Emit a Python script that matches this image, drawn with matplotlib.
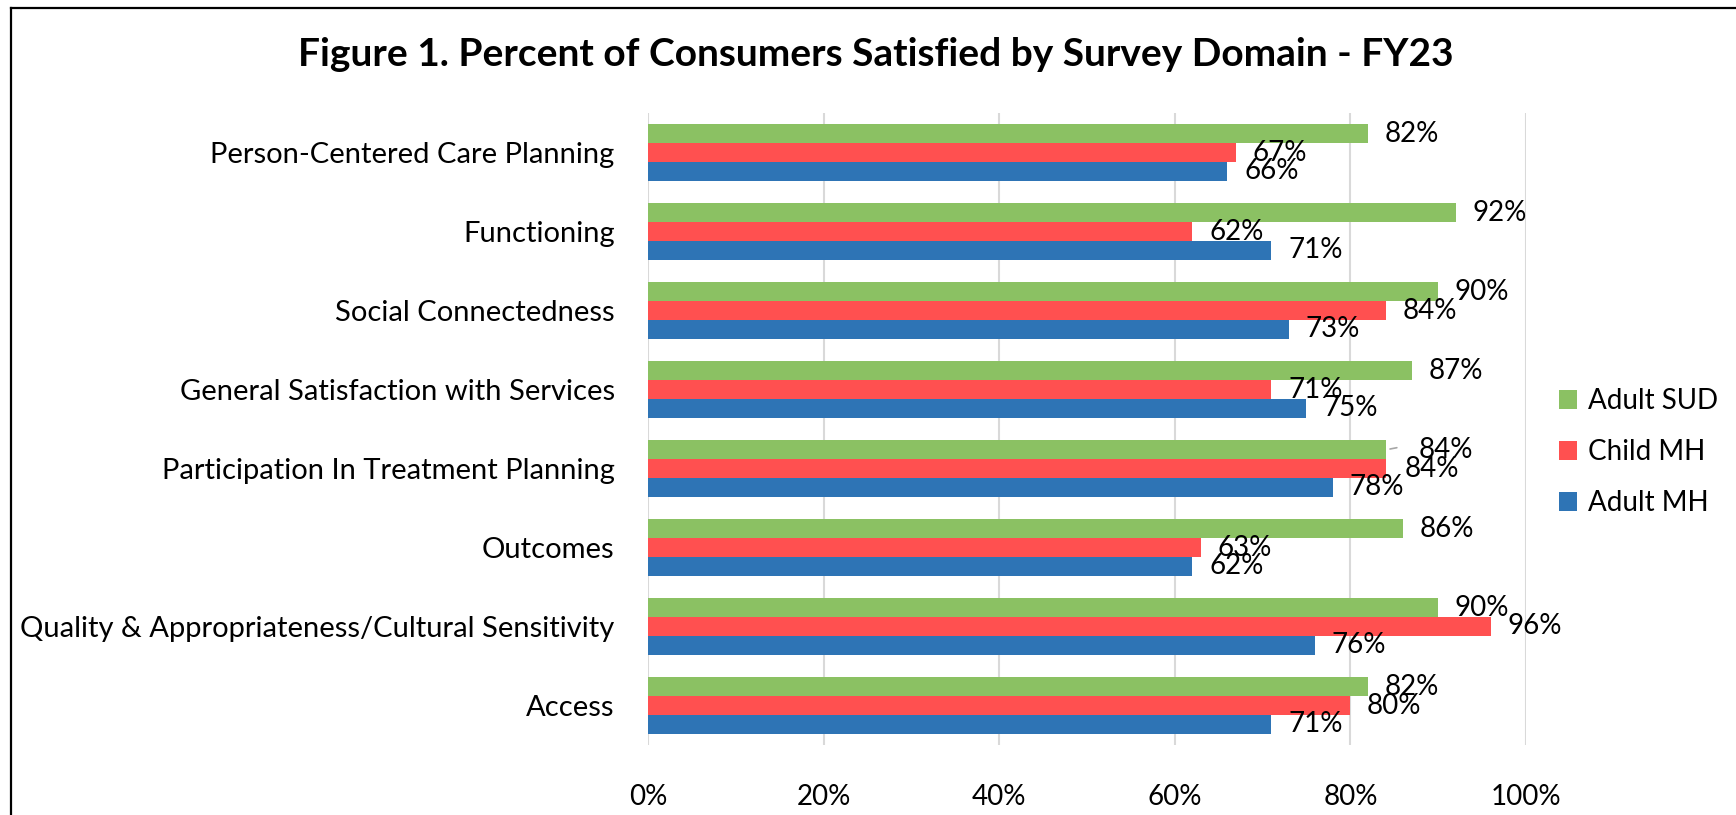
import matplotlib
matplotlib.use("Agg")
import matplotlib.pyplot as plt
from matplotlib.lines import Line2D
from matplotlib.patches import Patch
import numpy as np

plt.rcParams['font.family'] = ['Lato', 'DejaVu Sans']

# Survey domains, top to bottom
categories = [
    "Person-Centered Care Planning",
    "Functioning",
    "Social Connectedness",
    "General Satisfaction with Services",
    "Participation In Treatment Planning",
    "Outcomes",
    "Quality & Appropriateness/Cultural Sensitivity",
    "Access",
]

# Percent satisfied per group
adult_sud = [82, 92, 90, 87, 84, 86, 90, 82]
child_mh = [67, 62, 84, 71, 84, 63, 96, 80]
adult_mh = [66, 71, 73, 75, 78, 62, 76, 71]

series_names = ["Adult SUD", "Child MH", "Adult MH"]
series_values = [adult_sud, child_mh, adult_mh]
series_colors = ["#8BC163", "#FF5050", "#2E74B5"]

x_ticks = [0, 20, 40, 60, 80, 100]
x_tick_labels = ["0%", "20%", "40%", "60%", "80%", "100%"]

title = "Figure 1. Percent of Consumers Satisfied by Survey Domain - FY23"

W, H = 1736, 815
fig = plt.figure(figsize=(W / 100, H / 100), dpi=100)
fig.patch.set_facecolor("white")

ax = fig.add_axes([648 / W, 1 - 745 / H, (1526 - 648) / W, (745 - 113) / H])

bar_h = 0.24
offsets = [-bar_h, 0.0, bar_h]
y = np.arange(len(categories))

LABEL_FS = 20

# label nudges (points) for the crowded Participation group
label_shift = {(4, 0): 12, (4, 1): 2}

for s, (name, vals, col) in enumerate(zip(series_names, series_values, series_colors)):
    ypos = y + offsets[s]
    ax.barh(ypos, vals, height=bar_h, color=col, label=name, zorder=3)
    for i, v in enumerate(vals):
        dx = 12 + label_shift.get((i, s), 0)
        ax.annotate(f"{v}%", xy=(v, ypos[i]), xytext=(dx, 0),
                    textcoords="offset points", ha="left", va="center",
                    fontsize=LABEL_FS, color="black", zorder=5)
        if (i, s) == (4, 0):
            ax.annotate("", xy=(v + 0.2, ypos[i]), xytext=(v + 1.6, ypos[i] - 0.03),
                        arrowprops=dict(arrowstyle="-", color="#A6A6A6", lw=1.2),
                        zorder=4)

ax.set_xlim(0, 100)
ax.set_ylim(len(categories) - 0.5, -0.5)
ax.set_xticks(x_ticks)
ax.set_xticklabels(x_tick_labels, fontsize=LABEL_FS)
ax.set_yticks(y)
ax.set_yticklabels(categories, fontsize=21)
ax.tick_params(axis="both", length=0)
ax.tick_params(axis="x", pad=28)
ax.tick_params(axis="y", pad=24)
ax.grid(axis="x", color="#D9D9D9", lw=1.5, zorder=0)
for sp in ax.spines.values():
    sp.set_visible(False)

fig.text(876 / W, 1 - 54 / H, title, ha="center", va="center",
         fontsize=28, fontweight="bold", color="black")

# legend
handles = [Patch(facecolor=c, edgecolor="none") for c in series_colors]
fig.legend(handles, series_names, loc="center left",
           bbox_to_anchor=(1548 / W, 1 - 452 / H), frameon=False,
           fontsize=LABEL_FS, handlelength=0.65, handleheight=0.65,
           handletextpad=0.4, labelspacing=0.9, borderaxespad=0)

# chart frame
fig.add_artist(Line2D([11 / W, 1], [1 - 8 / H, 1 - 8 / H], color="black", lw=1.6,
                      transform=fig.transFigure))
fig.add_artist(Line2D([11 / W, 11 / W], [0, 1 - 8 / H], color="black", lw=1.6,
                      transform=fig.transFigure))

fig.savefig("out.png", dpi=100, facecolor="white")
